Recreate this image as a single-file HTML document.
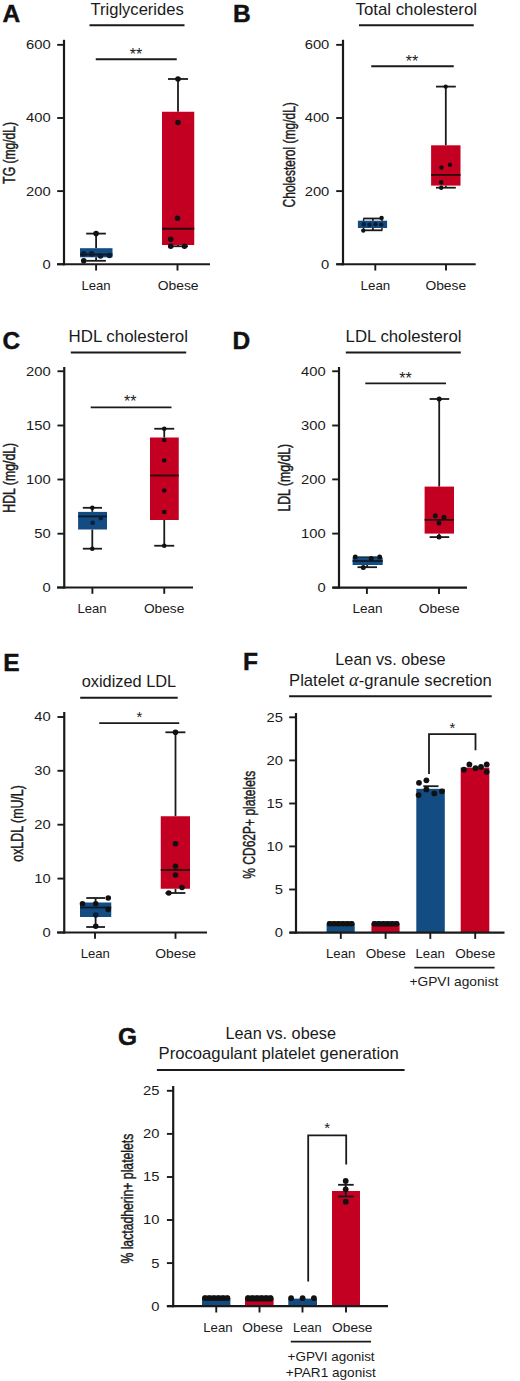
<!DOCTYPE html>
<html><head><meta charset="utf-8"><title>Figure</title>
<style>
html,body{margin:0;padding:0;background:#fff;}
body{width:520px;height:1381px;overflow:hidden;}
svg{display:block;font-family:"Liberation Sans", sans-serif;}
</style></head>
<body>
<svg width="520" height="1381" viewBox="0 0 520 1381">
<rect x="0" y="0" width="520" height="1381" fill="#fff"/>
<text x="2.6" y="22" font-size="24.5" font-weight="bold" fill="#111" stroke="#111" stroke-width="0.45">A</text>
<text x="137.125" y="14.5" font-size="16.6" text-anchor="middle" textLength="93.25" lengthAdjust="spacingAndGlyphs" fill="#1a1a1a">Triglycerides</text>
<line x1="89.5" y1="25.25" x2="184.5" y2="25.25" stroke="#1a1a1a" stroke-width="2"/>
<text x="136" y="59.6" font-size="16" text-anchor="middle" fill="#1a1a1a">**</text>
<line x1="95.75" y1="59.25" x2="176.75" y2="59.25" stroke="#1a1a1a" stroke-width="1.8"/>
<line x1="64" y1="39.8" x2="64" y2="265.35" stroke="#1a1a1a" stroke-width="2.2"/>
<line x1="57.2" y1="44.85" x2="64" y2="44.85" stroke="#1a1a1a" stroke-width="1.9"/>
<text transform="translate(50.7,49.25) scale(1.19,1)" font-size="12.4" text-anchor="end" fill="#1a1a1a">600</text>
<line x1="57.2" y1="118" x2="64" y2="118" stroke="#1a1a1a" stroke-width="1.9"/>
<text transform="translate(50.7,122.4) scale(1.19,1)" font-size="12.4" text-anchor="end" fill="#1a1a1a">400</text>
<line x1="57.2" y1="191.1" x2="64" y2="191.1" stroke="#1a1a1a" stroke-width="1.9"/>
<text transform="translate(50.7,195.5) scale(1.19,1)" font-size="12.4" text-anchor="end" fill="#1a1a1a">200</text>
<line x1="57.2" y1="264.25" x2="64" y2="264.25" stroke="#1a1a1a" stroke-width="1.9"/>
<text transform="translate(50.7,268.65) scale(1.19,1)" font-size="12.4" text-anchor="end" fill="#1a1a1a">0</text>
<line x1="57" y1="264.25" x2="210" y2="264.25" stroke="#1a1a1a" stroke-width="2.2"/>
<line x1="96.1" y1="264.25" x2="96.1" y2="270.55" stroke="#1a1a1a" stroke-width="1.9"/>
<text x="96.0" y="290" font-size="12.7" text-anchor="middle" textLength="29.20" lengthAdjust="spacingAndGlyphs" fill="#1a1a1a">Lean</text>
<line x1="177.5" y1="264.25" x2="177.5" y2="270.55" stroke="#1a1a1a" stroke-width="1.9"/>
<text x="178.125" y="290" font-size="12.7" text-anchor="middle" textLength="40.95" lengthAdjust="spacingAndGlyphs" fill="#1a1a1a">Obese</text>
<text transform="translate(15,183.7) rotate(-90)" font-size="16.5" textLength="61.80" lengthAdjust="spacingAndGlyphs" fill="#1a1a1a" stroke="#1a1a1a" stroke-width="0.45">TG (mg/dL)</text>
<line x1="96.1" y1="233.6" x2="96.1" y2="248.2" stroke="#1a1a1a" stroke-width="1.8"/>
<line x1="96.1" y1="257.3" x2="96.1" y2="260.8" stroke="#1a1a1a" stroke-width="1.8"/>
<line x1="86.2" y1="233.6" x2="105.9" y2="233.6" stroke="#1a1a1a" stroke-width="1.8"/>
<line x1="86.2" y1="260.8" x2="105.9" y2="260.8" stroke="#1a1a1a" stroke-width="1.8"/>
<rect x="80" y="248.2" width="32.50" height="9.10" fill="#134c82"/>
<line x1="80" y1="254.5" x2="112.5" y2="254.5" stroke="#0a1a2a" stroke-width="1.8"/>
<circle cx="96.1" cy="233.6" r="2.8" fill="#111"/>
<circle cx="83.7" cy="253.8" r="2.8" fill="#0b1c33"/>
<circle cx="91.7" cy="253.8" r="2.8" fill="#0b1c33"/>
<circle cx="100.5" cy="256" r="2.8" fill="#0b1c33"/>
<circle cx="109.4" cy="255.5" r="2.8" fill="#0b1c33"/>
<circle cx="83.7" cy="260.8" r="2.8" fill="#111"/>
<line x1="178" y1="79" x2="178" y2="111.75" stroke="#1a1a1a" stroke-width="1.8"/>
<line x1="178" y1="245" x2="178" y2="246.25" stroke="#1a1a1a" stroke-width="1.8"/>
<line x1="168" y1="79" x2="188" y2="79" stroke="#1a1a1a" stroke-width="1.8"/>
<line x1="168" y1="246.25" x2="188" y2="246.25" stroke="#1a1a1a" stroke-width="1.8"/>
<rect x="162" y="111.75" width="32.25" height="133.25" fill="#c40022"/>
<line x1="162" y1="228.75" x2="194.25" y2="228.75" stroke="#2a0a0a" stroke-width="1.8"/>
<circle cx="178" cy="79" r="2.8" fill="#111"/>
<circle cx="178" cy="122.5" r="2.8" fill="#111"/>
<circle cx="177.5" cy="218.25" r="2.8" fill="#111"/>
<circle cx="170.75" cy="239.25" r="2.8" fill="#111"/>
<circle cx="170.75" cy="246.25" r="2.8" fill="#111"/>
<circle cx="184.5" cy="246.25" r="2.8" fill="#111"/>
<text x="233.1" y="22" font-size="24.5" font-weight="bold" fill="#111" stroke="#111" stroke-width="0.45">B</text>
<text x="416.25" y="14.5" font-size="16.6" text-anchor="middle" textLength="121.50" lengthAdjust="spacingAndGlyphs" fill="#1a1a1a">Total cholesterol</text>
<line x1="359" y1="25.25" x2="473.75" y2="25.25" stroke="#1a1a1a" stroke-width="2"/>
<text x="412" y="66.8" font-size="16" text-anchor="middle" fill="#1a1a1a">**</text>
<line x1="371.25" y1="66.25" x2="453.75" y2="66.25" stroke="#1a1a1a" stroke-width="1.8"/>
<line x1="343" y1="39.8" x2="343" y2="265.35" stroke="#1a1a1a" stroke-width="2.2"/>
<line x1="336.2" y1="44.85" x2="343" y2="44.85" stroke="#1a1a1a" stroke-width="1.9"/>
<text transform="translate(329.3,49.25) scale(1.19,1)" font-size="12.4" text-anchor="end" fill="#1a1a1a">600</text>
<line x1="336.2" y1="118" x2="343" y2="118" stroke="#1a1a1a" stroke-width="1.9"/>
<text transform="translate(329.3,122.4) scale(1.19,1)" font-size="12.4" text-anchor="end" fill="#1a1a1a">400</text>
<line x1="336.2" y1="191.1" x2="343" y2="191.1" stroke="#1a1a1a" stroke-width="1.9"/>
<text transform="translate(329.3,195.5) scale(1.19,1)" font-size="12.4" text-anchor="end" fill="#1a1a1a">200</text>
<line x1="336.2" y1="264.25" x2="343" y2="264.25" stroke="#1a1a1a" stroke-width="1.9"/>
<text transform="translate(329.3,268.65) scale(1.19,1)" font-size="12.4" text-anchor="end" fill="#1a1a1a">0</text>
<line x1="336.3" y1="264.25" x2="475.7" y2="264.25" stroke="#1a1a1a" stroke-width="2.2"/>
<line x1="375.3" y1="264.25" x2="375.3" y2="270.55" stroke="#1a1a1a" stroke-width="1.9"/>
<text x="375.45" y="289.8" font-size="12.7" text-anchor="middle" textLength="29.70" lengthAdjust="spacingAndGlyphs" fill="#1a1a1a">Lean</text>
<line x1="446" y1="264.25" x2="446" y2="270.55" stroke="#1a1a1a" stroke-width="1.9"/>
<text x="445.8" y="289.8" font-size="12.7" text-anchor="middle" textLength="40.80" lengthAdjust="spacingAndGlyphs" fill="#1a1a1a">Obese</text>
<text transform="translate(294.7,207.4) rotate(-90)" font-size="16.5" textLength="105.20" lengthAdjust="spacingAndGlyphs" fill="#1a1a1a" stroke="#1a1a1a" stroke-width="0.45">Cholesterol (mg/dL)</text>
<line x1="363.6" y1="218.5" x2="363.6" y2="230.3" stroke="#1a1a1a" stroke-width="1.4"/>
<line x1="382" y1="218.5" x2="382" y2="230.3" stroke="#1a1a1a" stroke-width="1.4"/>
<line x1="372.9" y1="218.5" x2="372.9" y2="220.7" stroke="#1a1a1a" stroke-width="1.8"/>
<line x1="372.9" y1="228" x2="372.9" y2="230.3" stroke="#1a1a1a" stroke-width="1.8"/>
<line x1="363.3" y1="218.5" x2="382.4" y2="218.5" stroke="#1a1a1a" stroke-width="1.8"/>
<line x1="363.3" y1="230.3" x2="382.4" y2="230.3" stroke="#1a1a1a" stroke-width="1.8"/>
<rect x="357.9" y="220.7" width="29.20" height="7.30" fill="#134c82"/>
<circle cx="381.6" cy="217.9" r="2.2" fill="#111"/>
<circle cx="363.3" cy="230.6" r="2.2" fill="#111"/>
<circle cx="363.8" cy="224.3" r="2.2" fill="#0b1c33"/>
<circle cx="369.5" cy="224.8" r="2.2" fill="#0b1c33"/>
<circle cx="375.5" cy="224.3" r="2.2" fill="#0b1c33"/>
<circle cx="381.2" cy="224.6" r="2.2" fill="#0b1c33"/>
<line x1="445.8" y1="86.6" x2="445.8" y2="145.3" stroke="#1a1a1a" stroke-width="1.8"/>
<line x1="445.8" y1="185.6" x2="445.8" y2="187.7" stroke="#1a1a1a" stroke-width="1.8"/>
<line x1="436" y1="86.6" x2="455.8" y2="86.6" stroke="#1a1a1a" stroke-width="1.8"/>
<line x1="436" y1="187.7" x2="455.8" y2="187.7" stroke="#1a1a1a" stroke-width="1.8"/>
<rect x="431.1" y="145.3" width="29.40" height="40.30" fill="#c40022"/>
<line x1="431.1" y1="174.9" x2="460.5" y2="174.9" stroke="#2a0a0a" stroke-width="1.8"/>
<circle cx="445.7" cy="86.6" r="2.2" fill="#111"/>
<circle cx="441.4" cy="167.5" r="2.2" fill="#111"/>
<circle cx="450" cy="164.8" r="2.2" fill="#111"/>
<circle cx="441.2" cy="182.3" r="2.2" fill="#111"/>
<circle cx="441.2" cy="187.7" r="2.2" fill="#111"/>
<text x="2.6" y="348.7" font-size="24.5" font-weight="bold" fill="#111" stroke="#111" stroke-width="0.45">C</text>
<text x="128.25" y="341.75" font-size="16.6" text-anchor="middle" textLength="119.50" lengthAdjust="spacingAndGlyphs" fill="#1a1a1a">HDL cholesterol</text>
<line x1="70.8" y1="352.5" x2="186.2" y2="352.5" stroke="#1a1a1a" stroke-width="2"/>
<text x="130.2" y="407.4" font-size="16" text-anchor="middle" fill="#1a1a1a">**</text>
<line x1="90.7" y1="407.4" x2="171.5" y2="407.4" stroke="#1a1a1a" stroke-width="1.8"/>
<line x1="64.25" y1="367" x2="64.25" y2="588.6" stroke="#1a1a1a" stroke-width="2.2"/>
<line x1="57.45" y1="371.25" x2="64.25" y2="371.25" stroke="#1a1a1a" stroke-width="1.9"/>
<text transform="translate(50.6,375.65) scale(1.19,1)" font-size="12.4" text-anchor="end" fill="#1a1a1a">200</text>
<line x1="57.45" y1="425.5" x2="64.25" y2="425.5" stroke="#1a1a1a" stroke-width="1.9"/>
<text transform="translate(50.6,429.9) scale(1.19,1)" font-size="12.4" text-anchor="end" fill="#1a1a1a">150</text>
<line x1="57.45" y1="479.5" x2="64.25" y2="479.5" stroke="#1a1a1a" stroke-width="1.9"/>
<text transform="translate(50.6,483.9) scale(1.19,1)" font-size="12.4" text-anchor="end" fill="#1a1a1a">100</text>
<line x1="57.45" y1="533.7" x2="64.25" y2="533.7" stroke="#1a1a1a" stroke-width="1.9"/>
<text transform="translate(50.6,538.1) scale(1.19,1)" font-size="12.4" text-anchor="end" fill="#1a1a1a">50</text>
<line x1="57.45" y1="587.5" x2="64.25" y2="587.5" stroke="#1a1a1a" stroke-width="1.9"/>
<text transform="translate(50.6,591.9) scale(1.19,1)" font-size="12.4" text-anchor="end" fill="#1a1a1a">0</text>
<line x1="57" y1="587.5" x2="193" y2="587.5" stroke="#1a1a1a" stroke-width="2.2"/>
<line x1="92.4" y1="587.5" x2="92.4" y2="593.8" stroke="#1a1a1a" stroke-width="1.9"/>
<text x="92.0" y="612.8" font-size="12.7" text-anchor="middle" textLength="29.20" lengthAdjust="spacingAndGlyphs" fill="#1a1a1a">Lean</text>
<line x1="164.25" y1="587.5" x2="164.25" y2="593.8" stroke="#1a1a1a" stroke-width="1.9"/>
<text x="164.125" y="612.8" font-size="12.7" text-anchor="middle" textLength="40.45" lengthAdjust="spacingAndGlyphs" fill="#1a1a1a">Obese</text>
<text transform="translate(15,512.7) rotate(-90)" font-size="16.5" textLength="69.90" lengthAdjust="spacingAndGlyphs" fill="#1a1a1a" stroke="#1a1a1a" stroke-width="0.45">HDL (mg/dL)</text>
<line x1="92.3" y1="507.8" x2="92.3" y2="511.9" stroke="#1a1a1a" stroke-width="1.8"/>
<line x1="92.3" y1="529.5" x2="92.3" y2="548.7" stroke="#1a1a1a" stroke-width="1.8"/>
<line x1="82.8" y1="507.8" x2="102" y2="507.8" stroke="#1a1a1a" stroke-width="1.8"/>
<line x1="82.8" y1="548.7" x2="102" y2="548.7" stroke="#1a1a1a" stroke-width="1.8"/>
<rect x="78.1" y="511.9" width="28.90" height="17.60" fill="#134c82"/>
<line x1="78.1" y1="516.4" x2="107" y2="516.4" stroke="#0a1a2a" stroke-width="1.8"/>
<circle cx="92.3" cy="507.8" r="2.3" fill="#111"/>
<circle cx="100.8" cy="518.1" r="2.3" fill="#0b1c33"/>
<circle cx="92.6" cy="522.8" r="2.3" fill="#0b1c33"/>
<circle cx="92.3" cy="548.7" r="2.3" fill="#111"/>
<line x1="164.25" y1="428.75" x2="164.25" y2="437.5" stroke="#1a1a1a" stroke-width="1.8"/>
<line x1="164.25" y1="520" x2="164.25" y2="545.75" stroke="#1a1a1a" stroke-width="1.8"/>
<line x1="154.25" y1="428.75" x2="174.25" y2="428.75" stroke="#1a1a1a" stroke-width="1.8"/>
<line x1="154.25" y1="545.75" x2="174.25" y2="545.75" stroke="#1a1a1a" stroke-width="1.8"/>
<rect x="150" y="437.5" width="28.75" height="82.50" fill="#c40022"/>
<line x1="150" y1="475.5" x2="178.75" y2="475.5" stroke="#2a0a0a" stroke-width="1.8"/>
<circle cx="164.25" cy="428.75" r="2.3" fill="#111"/>
<circle cx="164.25" cy="440" r="2.3" fill="#111"/>
<circle cx="164.25" cy="460.5" r="2.3" fill="#111"/>
<circle cx="164.25" cy="490.5" r="2.3" fill="#111"/>
<circle cx="164.25" cy="512" r="2.3" fill="#111"/>
<circle cx="164.25" cy="545.75" r="2.3" fill="#111"/>
<text x="232.4" y="349" font-size="24.5" font-weight="bold" fill="#111" stroke="#111" stroke-width="0.45">D</text>
<text x="403.55" y="341.75" font-size="16.6" text-anchor="middle" textLength="115.90" lengthAdjust="spacingAndGlyphs" fill="#1a1a1a">LDL cholesterol</text>
<line x1="345.8" y1="352.6" x2="460.8" y2="352.6" stroke="#1a1a1a" stroke-width="2"/>
<text x="405.6" y="383.6" font-size="16" text-anchor="middle" fill="#1a1a1a">**</text>
<line x1="365.3" y1="383.4" x2="446" y2="383.4" stroke="#1a1a1a" stroke-width="1.8"/>
<line x1="339" y1="367" x2="339" y2="588.7" stroke="#1a1a1a" stroke-width="2.2"/>
<line x1="332.2" y1="371.25" x2="339" y2="371.25" stroke="#1a1a1a" stroke-width="1.9"/>
<text transform="translate(325.6,375.65) scale(1.19,1)" font-size="12.4" text-anchor="end" fill="#1a1a1a">400</text>
<line x1="332.2" y1="425.5" x2="339" y2="425.5" stroke="#1a1a1a" stroke-width="1.9"/>
<text transform="translate(325.6,429.9) scale(1.19,1)" font-size="12.4" text-anchor="end" fill="#1a1a1a">300</text>
<line x1="332.2" y1="479.4" x2="339" y2="479.4" stroke="#1a1a1a" stroke-width="1.9"/>
<text transform="translate(325.6,483.79999999999995) scale(1.19,1)" font-size="12.4" text-anchor="end" fill="#1a1a1a">200</text>
<line x1="332.2" y1="533.6" x2="339" y2="533.6" stroke="#1a1a1a" stroke-width="1.9"/>
<text transform="translate(325.6,538.0) scale(1.19,1)" font-size="12.4" text-anchor="end" fill="#1a1a1a">100</text>
<line x1="332.2" y1="587.6" x2="339" y2="587.6" stroke="#1a1a1a" stroke-width="1.9"/>
<text transform="translate(325.6,592.0) scale(1.19,1)" font-size="12.4" text-anchor="end" fill="#1a1a1a">0</text>
<line x1="332.5" y1="587.6" x2="467" y2="587.6" stroke="#1a1a1a" stroke-width="2.2"/>
<line x1="366.9" y1="587.6" x2="366.9" y2="593.9" stroke="#1a1a1a" stroke-width="1.9"/>
<text x="367.5" y="613" font-size="12.7" text-anchor="middle" textLength="30.20" lengthAdjust="spacingAndGlyphs" fill="#1a1a1a">Lean</text>
<line x1="439" y1="587.6" x2="439" y2="593.9" stroke="#1a1a1a" stroke-width="1.9"/>
<text x="439.2" y="613" font-size="12.7" text-anchor="middle" textLength="40.80" lengthAdjust="spacingAndGlyphs" fill="#1a1a1a">Obese</text>
<text transform="translate(289.6,511.6) rotate(-90)" font-size="16.5" textLength="67.80" lengthAdjust="spacingAndGlyphs" fill="#1a1a1a" stroke="#1a1a1a" stroke-width="0.45">LDL (mg/dL)</text>
<line x1="367.2" y1="557.3" x2="367.2" y2="557.5" stroke="#1a1a1a" stroke-width="1.8"/>
<line x1="367.2" y1="565" x2="367.2" y2="567.2" stroke="#1a1a1a" stroke-width="1.8"/>
<line x1="357.5" y1="557.3" x2="377" y2="557.3" stroke="#1a1a1a" stroke-width="1.8"/>
<line x1="357.5" y1="567.2" x2="377" y2="567.2" stroke="#1a1a1a" stroke-width="1.8"/>
<rect x="352.6" y="557.5" width="30.10" height="7.50" fill="#134c82"/>
<line x1="352.6" y1="561" x2="382.7" y2="561" stroke="#0a1a2a" stroke-width="1.8"/>
<circle cx="355.3" cy="557.1" r="2.5" fill="#111"/>
<circle cx="379.6" cy="557.1" r="2.5" fill="#111"/>
<circle cx="371.2" cy="558.4" r="2.5" fill="#111"/>
<circle cx="363.3" cy="567.4" r="2.5" fill="#111"/>
<line x1="439.2" y1="399" x2="439.2" y2="486.6" stroke="#1a1a1a" stroke-width="1.8"/>
<line x1="439.2" y1="533.6" x2="439.2" y2="537.1" stroke="#1a1a1a" stroke-width="1.8"/>
<line x1="429.6" y1="399" x2="449.2" y2="399" stroke="#1a1a1a" stroke-width="1.8"/>
<line x1="429.6" y1="537.1" x2="449.2" y2="537.1" stroke="#1a1a1a" stroke-width="1.8"/>
<rect x="424.6" y="486.6" width="29.40" height="47.00" fill="#c40022"/>
<line x1="424.6" y1="519.8" x2="454" y2="519.8" stroke="#2a0a0a" stroke-width="1.8"/>
<circle cx="439.2" cy="399" r="2.5" fill="#111"/>
<circle cx="435.3" cy="515.8" r="2.5" fill="#111"/>
<circle cx="444" cy="517.2" r="2.5" fill="#111"/>
<circle cx="439" cy="523" r="2.5" fill="#111"/>
<circle cx="439" cy="537.1" r="2.5" fill="#111"/>
<text x="3.1999999999999997" y="671.25" font-size="24.5" font-weight="bold" fill="#111" stroke="#111" stroke-width="0.45">E</text>
<text x="128.95" y="687" font-size="16.6" text-anchor="middle" textLength="94.50" lengthAdjust="spacingAndGlyphs" fill="#1a1a1a">oxidized LDL</text>
<line x1="80.2" y1="697.75" x2="177.7" y2="697.75" stroke="#1a1a1a" stroke-width="2"/>
<text x="139.4" y="721.8" font-size="15" text-anchor="middle" fill="#1a1a1a">*</text>
<line x1="99.2" y1="723.1" x2="179.2" y2="723.1" stroke="#1a1a1a" stroke-width="1.8"/>
<line x1="64.25" y1="712" x2="64.25" y2="933.6" stroke="#1a1a1a" stroke-width="2.2"/>
<line x1="57.45" y1="717" x2="64.25" y2="717" stroke="#1a1a1a" stroke-width="1.9"/>
<text transform="translate(50.6,721.4) scale(1.19,1)" font-size="12.4" text-anchor="end" fill="#1a1a1a">40</text>
<line x1="57.45" y1="770.8" x2="64.25" y2="770.8" stroke="#1a1a1a" stroke-width="1.9"/>
<text transform="translate(50.6,775.1999999999999) scale(1.19,1)" font-size="12.4" text-anchor="end" fill="#1a1a1a">30</text>
<line x1="57.45" y1="824.7" x2="64.25" y2="824.7" stroke="#1a1a1a" stroke-width="1.9"/>
<text transform="translate(50.6,829.1) scale(1.19,1)" font-size="12.4" text-anchor="end" fill="#1a1a1a">20</text>
<line x1="57.45" y1="878.6" x2="64.25" y2="878.6" stroke="#1a1a1a" stroke-width="1.9"/>
<text transform="translate(50.6,883.0) scale(1.19,1)" font-size="12.4" text-anchor="end" fill="#1a1a1a">10</text>
<line x1="57.45" y1="932.5" x2="64.25" y2="932.5" stroke="#1a1a1a" stroke-width="1.9"/>
<text transform="translate(50.6,936.9) scale(1.19,1)" font-size="12.4" text-anchor="end" fill="#1a1a1a">0</text>
<line x1="57" y1="932.5" x2="207" y2="932.5" stroke="#1a1a1a" stroke-width="2.2"/>
<line x1="95" y1="932.5" x2="95" y2="938.8" stroke="#1a1a1a" stroke-width="1.9"/>
<text x="95.25" y="958" font-size="12.7" text-anchor="middle" textLength="29.20" lengthAdjust="spacingAndGlyphs" fill="#1a1a1a">Lean</text>
<line x1="175.5" y1="932.5" x2="175.5" y2="938.8" stroke="#1a1a1a" stroke-width="1.9"/>
<text x="175.625" y="958" font-size="12.7" text-anchor="middle" textLength="40.95" lengthAdjust="spacingAndGlyphs" fill="#1a1a1a">Obese</text>
<text transform="translate(23.3,861.7) rotate(-90)" font-size="16.5" textLength="76.50" lengthAdjust="spacingAndGlyphs" fill="#1a1a1a" stroke="#1a1a1a" stroke-width="0.45">oxLDL (mU/L)</text>
<line x1="95.6" y1="898" x2="95.6" y2="902.5" stroke="#1a1a1a" stroke-width="1.8"/>
<line x1="95.6" y1="917" x2="95.6" y2="927" stroke="#1a1a1a" stroke-width="1.8"/>
<line x1="86.25" y1="898" x2="105" y2="898" stroke="#1a1a1a" stroke-width="1.8"/>
<line x1="86.25" y1="927" x2="105" y2="927" stroke="#1a1a1a" stroke-width="1.8"/>
<rect x="80" y="902.5" width="31.25" height="14.50" fill="#134c82"/>
<line x1="80" y1="907.5" x2="111.25" y2="907.5" stroke="#0a1a2a" stroke-width="1.8"/>
<circle cx="108.25" cy="898" r="2.8" fill="#111"/>
<circle cx="82.5" cy="903.75" r="2.8" fill="#111"/>
<circle cx="95.75" cy="903.75" r="2.8" fill="#111"/>
<circle cx="108.25" cy="909.5" r="2.8" fill="#111"/>
<circle cx="95.75" cy="915" r="2.8" fill="#0b1c33"/>
<circle cx="95.75" cy="926.25" r="2.8" fill="#111"/>
<line x1="175.5" y1="732.3" x2="175.5" y2="816.25" stroke="#1a1a1a" stroke-width="1.8"/>
<line x1="175.5" y1="888.75" x2="175.5" y2="893" stroke="#1a1a1a" stroke-width="1.8"/>
<line x1="165.4" y1="732.3" x2="185.4" y2="732.3" stroke="#1a1a1a" stroke-width="1.8"/>
<line x1="165.4" y1="893" x2="185.4" y2="893" stroke="#1a1a1a" stroke-width="1.8"/>
<rect x="160.75" y="816.25" width="29.25" height="72.50" fill="#c40022"/>
<line x1="160.75" y1="870" x2="190" y2="870" stroke="#2a0a0a" stroke-width="1.8"/>
<circle cx="175.5" cy="732.3" r="2.8" fill="#111"/>
<circle cx="175.5" cy="843.75" r="2.8" fill="#111"/>
<circle cx="175.5" cy="866.25" r="2.8" fill="#111"/>
<circle cx="175.5" cy="875" r="2.8" fill="#111"/>
<circle cx="182" cy="887.5" r="2.8" fill="#111"/>
<circle cx="168.75" cy="893" r="2.8" fill="#111"/>
<text x="243.0" y="670.3" font-size="24.5" font-weight="bold" fill="#111" stroke="#111" stroke-width="0.45">F</text>
<text x="390.45000000000005" y="664.5" font-size="16.6" text-anchor="middle" textLength="110.30" lengthAdjust="spacingAndGlyphs" fill="#1a1a1a">Lean vs. obese</text>
<text x="390.4" y="685.6" font-size="16.6" text-anchor="middle" textLength="202.60" lengthAdjust="spacingAndGlyphs" fill="#1a1a1a">Platelet <tspan font-family="Liberation Serif" font-style="italic" font-size="18.5">α</tspan>-granule secretion</text>
<line x1="289.1" y1="696.2" x2="491.7" y2="696.2" stroke="#1a1a1a" stroke-width="2"/>
<line x1="296" y1="713" x2="296" y2="933.7" stroke="#1a1a1a" stroke-width="2.2"/>
<line x1="289.2" y1="717.3" x2="296" y2="717.3" stroke="#1a1a1a" stroke-width="1.9"/>
<text transform="translate(283,721.6999999999999) scale(1.19,1)" font-size="12.4" text-anchor="end" fill="#1a1a1a">25</text>
<line x1="289.2" y1="760.4" x2="296" y2="760.4" stroke="#1a1a1a" stroke-width="1.9"/>
<text transform="translate(283,764.8) scale(1.19,1)" font-size="12.4" text-anchor="end" fill="#1a1a1a">20</text>
<line x1="289.2" y1="803.5" x2="296" y2="803.5" stroke="#1a1a1a" stroke-width="1.9"/>
<text transform="translate(283,807.9) scale(1.19,1)" font-size="12.4" text-anchor="end" fill="#1a1a1a">15</text>
<line x1="289.2" y1="846.4" x2="296" y2="846.4" stroke="#1a1a1a" stroke-width="1.9"/>
<text transform="translate(283,850.8) scale(1.19,1)" font-size="12.4" text-anchor="end" fill="#1a1a1a">10</text>
<line x1="289.2" y1="889.5" x2="296" y2="889.5" stroke="#1a1a1a" stroke-width="1.9"/>
<text transform="translate(283,893.9) scale(1.19,1)" font-size="12.4" text-anchor="end" fill="#1a1a1a">5</text>
<line x1="289.2" y1="932.6" x2="296" y2="932.6" stroke="#1a1a1a" stroke-width="1.9"/>
<text transform="translate(283,937.0) scale(1.19,1)" font-size="12.4" text-anchor="end" fill="#1a1a1a">0</text>
<text transform="translate(255.3,878.7) rotate(-90)" font-size="16.5" textLength="107.90" lengthAdjust="spacingAndGlyphs" fill="#1a1a1a" stroke="#1a1a1a" stroke-width="0.45">% CD62P+ platelets</text>
<rect x="326.6" y="924" width="28.10" height="8.60" fill="#134c82"/>
<rect x="326.90" y="921.3" width="27.50" height="4.90" rx="2.2" fill="#111"/>
<circle cx="329.5" cy="923.6" r="2.7" fill="#111"/>
<circle cx="333.96" cy="923.6" r="2.7" fill="#111"/>
<circle cx="338.42" cy="923.6" r="2.7" fill="#111"/>
<circle cx="342.88" cy="923.6" r="2.7" fill="#111"/>
<circle cx="347.34" cy="923.6" r="2.7" fill="#111"/>
<circle cx="351.8" cy="923.6" r="2.7" fill="#111"/>
<rect x="371.4" y="924" width="28.20" height="8.60" fill="#c40022"/>
<rect x="371.70" y="921.3" width="27.60" height="5.10" rx="2.2" fill="#111"/>
<circle cx="374.3" cy="923.6" r="2.7" fill="#111"/>
<circle cx="378.78" cy="923.6" r="2.7" fill="#111"/>
<circle cx="383.26" cy="923.6" r="2.7" fill="#111"/>
<circle cx="387.74" cy="923.6" r="2.7" fill="#111"/>
<circle cx="392.22" cy="923.6" r="2.7" fill="#111"/>
<circle cx="396.7" cy="923.6" r="2.7" fill="#111"/>
<rect x="416.3" y="788.8" width="28.50" height="143.80" fill="#134c82"/>
<rect x="460.7" y="767.6" width="28.60" height="165.00" fill="#c40022"/>
<line x1="423.3" y1="786.2" x2="438.5" y2="786.2" stroke="#1a1a1a" stroke-width="1.8"/>
<circle cx="419" cy="782.8" r="2.9" fill="#111"/>
<circle cx="426.4" cy="780.3" r="2.9" fill="#111"/>
<circle cx="426.4" cy="789.4" r="2.9" fill="#111"/>
<circle cx="434.3" cy="793.4" r="2.9" fill="#111"/>
<circle cx="441.9" cy="791.3" r="2.9" fill="#111"/>
<circle cx="418.6" cy="795.1" r="2.9" fill="#111"/>
<circle cx="463.9" cy="769.7" r="2.9" fill="#111"/>
<circle cx="469.4" cy="764.4" r="2.9" fill="#111"/>
<circle cx="475.5" cy="768.2" r="2.9" fill="#111"/>
<circle cx="481" cy="767" r="2.9" fill="#111"/>
<circle cx="486.7" cy="764.4" r="2.9" fill="#111"/>
<circle cx="486.7" cy="771.8" r="2.9" fill="#111"/>
<line x1="289.5" y1="932.6" x2="504.5" y2="932.6" stroke="#1a1a1a" stroke-width="2.2"/>
<line x1="340.8" y1="932.6" x2="340.8" y2="938.9" stroke="#1a1a1a" stroke-width="1.9"/>
<text x="340.65" y="957.7" font-size="12.7" text-anchor="middle" textLength="29.30" lengthAdjust="spacingAndGlyphs" fill="#1a1a1a">Lean</text>
<line x1="385.6" y1="932.6" x2="385.6" y2="938.9" stroke="#1a1a1a" stroke-width="1.9"/>
<text x="385.75" y="957.7" font-size="12.7" text-anchor="middle" textLength="39.90" lengthAdjust="spacingAndGlyphs" fill="#1a1a1a">Obese</text>
<line x1="430.3" y1="932.6" x2="430.3" y2="938.9" stroke="#1a1a1a" stroke-width="1.9"/>
<text x="430.15" y="957.7" font-size="12.7" text-anchor="middle" textLength="29.30" lengthAdjust="spacingAndGlyphs" fill="#1a1a1a">Lean</text>
<line x1="475.2" y1="932.6" x2="475.2" y2="938.9" stroke="#1a1a1a" stroke-width="1.9"/>
<text x="475.25" y="957.7" font-size="12.7" text-anchor="middle" textLength="39.90" lengthAdjust="spacingAndGlyphs" fill="#1a1a1a">Obese</text>
<line x1="414.3" y1="967.7" x2="494.6" y2="967.7" stroke="#1a1a1a" stroke-width="1.8"/>
<text x="453.9" y="986.3" font-size="12.8" text-anchor="middle" textLength="88.80" lengthAdjust="spacingAndGlyphs" fill="#1a1a1a">+GPVI agonist</text>
<polyline points="429,774 429,734.2 475.5,734.2 475.5,750.3" fill="none" stroke="#1a1a1a" stroke-width="1.8"/>
<text x="452.5" y="732.8" font-size="15" text-anchor="middle" fill="#1a1a1a">*</text>
<text x="117.9" y="1045.2" font-size="24.5" font-weight="bold" fill="#111" stroke="#111" stroke-width="0.45">G</text>
<text x="280.75" y="1038.5" font-size="16.6" text-anchor="middle" textLength="110.50" lengthAdjust="spacingAndGlyphs" fill="#1a1a1a">Lean vs. obese</text>
<text x="278.6" y="1059.1" font-size="16.6" text-anchor="middle" textLength="240.20" lengthAdjust="spacingAndGlyphs" fill="#1a1a1a">Procoagulant platelet generation</text>
<line x1="156.9" y1="1070" x2="404.6" y2="1070" stroke="#1a1a1a" stroke-width="2"/>
<line x1="173.2" y1="1086" x2="173.2" y2="1307.3" stroke="#1a1a1a" stroke-width="2.2"/>
<line x1="166.89999999999998" y1="1090.8" x2="173.2" y2="1090.8" stroke="#1a1a1a" stroke-width="1.9"/>
<text transform="translate(159.5,1095.2) scale(1.19,1)" font-size="12.4" text-anchor="end" fill="#1a1a1a">25</text>
<line x1="166.89999999999998" y1="1133.9" x2="173.2" y2="1133.9" stroke="#1a1a1a" stroke-width="1.9"/>
<text transform="translate(159.5,1138.3000000000002) scale(1.19,1)" font-size="12.4" text-anchor="end" fill="#1a1a1a">20</text>
<line x1="166.89999999999998" y1="1177" x2="173.2" y2="1177" stroke="#1a1a1a" stroke-width="1.9"/>
<text transform="translate(159.5,1181.4) scale(1.19,1)" font-size="12.4" text-anchor="end" fill="#1a1a1a">15</text>
<line x1="166.89999999999998" y1="1220" x2="173.2" y2="1220" stroke="#1a1a1a" stroke-width="1.9"/>
<text transform="translate(159.5,1224.4) scale(1.19,1)" font-size="12.4" text-anchor="end" fill="#1a1a1a">10</text>
<line x1="166.89999999999998" y1="1263.1" x2="173.2" y2="1263.1" stroke="#1a1a1a" stroke-width="1.9"/>
<text transform="translate(159.5,1267.5) scale(1.19,1)" font-size="12.4" text-anchor="end" fill="#1a1a1a">5</text>
<line x1="166.89999999999998" y1="1306.2" x2="173.2" y2="1306.2" stroke="#1a1a1a" stroke-width="1.9"/>
<text transform="translate(159.5,1310.6000000000001) scale(1.19,1)" font-size="12.4" text-anchor="end" fill="#1a1a1a">0</text>
<text transform="translate(132.8,1263.6) rotate(-90)" font-size="16.5" textLength="129.90" lengthAdjust="spacingAndGlyphs" fill="#1a1a1a" stroke="#1a1a1a" stroke-width="0.45">% lactadherin+ platelets</text>
<rect x="202" y="1298" width="28.40" height="8.20" fill="#134c82"/>
<rect x="202.30" y="1295.6" width="27.80" height="5.20" rx="2.2" fill="#111"/>
<circle cx="204.9" cy="1298" r="2.7" fill="#111"/>
<circle cx="209.42" cy="1298" r="2.7" fill="#111"/>
<circle cx="213.94" cy="1298" r="2.7" fill="#111"/>
<circle cx="218.46" cy="1298" r="2.7" fill="#111"/>
<circle cx="222.98" cy="1298" r="2.7" fill="#111"/>
<circle cx="227.5" cy="1298" r="2.7" fill="#111"/>
<rect x="245" y="1298" width="28.60" height="8.20" fill="#c40022"/>
<rect x="245.30" y="1295.6" width="28.00" height="5.80" rx="2.2" fill="#111"/>
<circle cx="247.9" cy="1298" r="2.7" fill="#111"/>
<circle cx="252.46" cy="1298" r="2.7" fill="#111"/>
<circle cx="257.02" cy="1298" r="2.7" fill="#111"/>
<circle cx="261.58" cy="1298" r="2.7" fill="#111"/>
<circle cx="266.14" cy="1298" r="2.7" fill="#111"/>
<circle cx="270.7" cy="1298" r="2.7" fill="#111"/>
<rect x="288.3" y="1298.6" width="28.70" height="7.60" fill="#134c82"/>
<circle cx="291.1" cy="1298.2" r="2.9" fill="#111"/>
<circle cx="302.6" cy="1298.2" r="2.9" fill="#111"/>
<circle cx="313.9" cy="1298.2" r="2.9" fill="#111"/>
<rect x="332" y="1191" width="28.00" height="115.20" fill="#c40022"/>
<line x1="345.7" y1="1184.8" x2="345.7" y2="1196.5" stroke="#1a1a1a" stroke-width="1.8"/>
<line x1="338.1" y1="1184.8" x2="353.7" y2="1184.8" stroke="#1a1a1a" stroke-width="1.8"/>
<line x1="338.1" y1="1196.5" x2="353.7" y2="1196.5" stroke="#1a1a1a" stroke-width="1.8"/>
<circle cx="345.7" cy="1181" r="2.9" fill="#111"/>
<circle cx="345.7" cy="1189.3" r="2.9" fill="#111"/>
<circle cx="345.7" cy="1201.7" r="2.9" fill="#111"/>
<line x1="166.9" y1="1306.2" x2="388" y2="1306.2" stroke="#1a1a1a" stroke-width="2.2"/>
<line x1="216.25" y1="1306.2" x2="216.25" y2="1312.5" stroke="#1a1a1a" stroke-width="1.9"/>
<text x="217.9" y="1332.3" font-size="12.7" text-anchor="middle" textLength="29.40" lengthAdjust="spacingAndGlyphs" fill="#1a1a1a">Lean</text>
<line x1="259.5" y1="1306.2" x2="259.5" y2="1312.5" stroke="#1a1a1a" stroke-width="1.9"/>
<text x="262.55" y="1332.3" font-size="12.7" text-anchor="middle" textLength="40.50" lengthAdjust="spacingAndGlyphs" fill="#1a1a1a">Obese</text>
<line x1="302.5" y1="1306.2" x2="302.5" y2="1312.5" stroke="#1a1a1a" stroke-width="1.9"/>
<text x="307.35" y="1332.3" font-size="12.7" text-anchor="middle" textLength="28.50" lengthAdjust="spacingAndGlyphs" fill="#1a1a1a">Lean</text>
<line x1="346" y1="1306.2" x2="346" y2="1312.5" stroke="#1a1a1a" stroke-width="1.9"/>
<text x="352.29999999999995" y="1332.3" font-size="12.7" text-anchor="middle" textLength="40.40" lengthAdjust="spacingAndGlyphs" fill="#1a1a1a">Obese</text>
<line x1="290.8" y1="1341.6" x2="371" y2="1341.6" stroke="#1a1a1a" stroke-width="1.8"/>
<text x="331.1" y="1360.6" font-size="13.2" text-anchor="middle" textLength="87.00" lengthAdjust="spacingAndGlyphs" fill="#1a1a1a">+GPVI agonist</text>
<text x="330.8" y="1377.1" font-size="13.2" text-anchor="middle" textLength="90.00" lengthAdjust="spacingAndGlyphs" fill="#1a1a1a">+PAR1 agonist</text>
<polyline points="308.2,1281.5 308.2,1135.4 346.2,1135.4 346.2,1164.5" fill="none" stroke="#1a1a1a" stroke-width="1.8"/>
<text x="327.2" y="1133.2" font-size="15" text-anchor="middle" fill="#1a1a1a">*</text>
</svg>
</body></html>
